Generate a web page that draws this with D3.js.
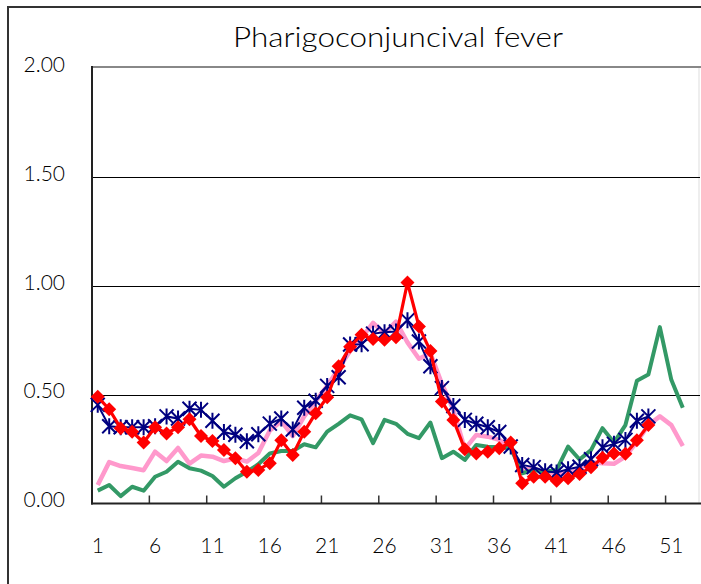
<!DOCTYPE html>
<html>
<head>
<meta charset="utf-8">
<script src="https://cdn.jsdelivr.net/npm/d3@7"></script>
<style>
  html, body { margin: 0; padding: 0; background: #fff; }
  svg { display: block; }
  text { font-family: Lato, "Liberation Sans", sans-serif; fill: #000; }
</style>
</head>
<body>
<svg id="chart" width="701" height="584"></svg>
<script>
// ---------- data ----------
const title = "Pharigoconjuncival fever";
const weeks = d3.range(1, 54);                       // 53 weekly categories
const xTickLabels = ["1","6","11","16","21","26","31","36","41","46","51"];
const yTicks = [0, 0.5, 1.0, 1.5, 2.0];

const pinkSeries = [0.085,0.19,0.172,0.163,0.153,0.238,0.195,0.255,0.183,0.22,
  0.215,0.195,0.208,0.192,0.232,0.335,0.378,0.31,0.40,0.47,
  0.54,0.62,0.70,0.76,0.83,0.78,0.835,0.74,0.665,0.69,
  0.55,0.43,0.25,0.315,0.307,0.292,0.26,0.155,0.162,0.14,
  0.14,0.135,0.16,0.19,0.185,0.182,0.215,0.284,0.36,0.40,
  0.36,0.264];
const greenSeries = [0.059,0.085,0.034,0.077,0.059,0.123,0.146,0.192,0.162,0.151,
  0.126,0.077,0.116,0.146,0.18,0.23,0.241,0.241,0.272,0.258,
  0.33,0.366,0.405,0.386,0.277,0.384,0.366,0.32,0.30,0.372,
  0.208,0.238,0.20,0.269,0.261,0.258,0.254,0.139,0.154,0.146,
  0.154,0.261,0.202,0.245,0.346,0.28,0.36,0.564,0.592,0.81,
  0.568,0.44];
const navySeries = [0.453,0.355,0.35,0.35,0.35,0.355,0.40,0.39,0.435,0.43,
  0.38,0.328,0.316,0.286,0.318,0.367,0.39,0.34,0.44,0.472,
  0.54,0.58,0.73,0.731,0.78,0.787,0.79,0.842,0.744,0.63,
  0.53,0.448,0.384,0.366,0.35,0.328,0.262,0.177,0.167,0.148,
  0.142,0.157,0.169,0.203,0.258,0.274,0.292,0.38,0.40];
const redSeries = [0.49,0.433,0.346,0.33,0.28,0.35,0.322,0.35,0.387,0.31,
  0.287,0.246,0.208,0.146,0.154,0.185,0.29,0.223,0.33,0.415,
  0.488,0.63,0.72,0.775,0.755,0.752,0.764,1.015,0.813,0.70,
  0.468,0.384,0.249,0.23,0.238,0.254,0.28,0.093,0.123,0.123,
  0.105,0.116,0.136,0.166,0.21,0.23,0.228,0.29,0.36];

// ---------- layout ----------
const svg = d3.select("#chart");
const plot = { left: 92, right: 700, top: 68, bottom: 503.5 };

svg.append("rect").attr("width", 701).attr("height", 584).attr("fill", "#fff");
// outer chart border (extends past the image on the right/bottom)
svg.append("rect").attr("x", 8).attr("y", 7).attr("width", 800).attr("height", 800)
  .attr("fill", "none").attr("stroke", "#333").attr("stroke-width", 2);

const x = d3.scaleBand().domain(weeks).range([plot.left, plot.right]).padding(0);
const xc = d => x(d) + x.bandwidth() / 2;
const y = d3.scaleLinear().domain([0, 2]).range([plot.bottom, plot.top]);

// plot area top/right border
svg.append("line").attr("x1", plot.left).attr("x2", plot.right + 2)
  .attr("y1", plot.top - 1).attr("y2", plot.top - 1)
  .attr("stroke", "#888").attr("stroke-width", 2);
svg.append("line").attr("x1", plot.right - 1).attr("x2", plot.right - 1)
  .attr("y1", plot.top).attr("y2", plot.bottom)
  .attr("stroke", "#ddd").attr("stroke-width", 1);

// gridlines
svg.append("g").selectAll("line").data(yTicks.filter(v => v > 0 && v < 2)).join("line")
  .attr("x1", plot.left).attr("x2", plot.right)
  .attr("y1", d => Math.round(y(d)) + 0.5).attr("y2", d => Math.round(y(d)) + 0.5)
  .attr("stroke", "#000").attr("stroke-width", 1);

// y axis labels
const yAxis = d3.axisLeft(y).tickValues(yTicks).tickFormat(d3.format(".2f")).tickSize(0).tickPadding(0);
const gy = svg.append("g").attr("transform", "translate(65,-3)").call(yAxis);
gy.select(".domain").remove();
gy.selectAll("text").attr("font-size", 21).attr("font-family", "Lato, sans-serif")
  .attr("font-weight", 300).attr("fill", "#000").attr("dy", "0.3em");

// x axis: labels every 5 weeks, ticks between categories every 5
const labelWeeks = xTickLabels.map(Number);
const xAxis = d3.axisBottom(x).tickValues(labelWeeks).tickSize(0).tickPadding(0);
const gx = svg.append("g").attr("transform", `translate(0,${plot.bottom})`).call(xAxis);
gx.select(".domain").remove();
gx.selectAll("text").attr("font-size", 21).attr("font-family", "Lato, sans-serif")
  .attr("font-weight", 300).attr("fill", "#000").attr("dy", "2.35em");

const tickBounds = d3.range(5, 53, 5);
svg.append("g").selectAll("line").data(tickBounds).join("line")
  .attr("x1", d => x(d + 1)).attr("x2", d => x(d + 1))
  .attr("y1", plot.bottom).attr("y2", plot.bottom - 8)
  .attr("stroke", "#333").attr("stroke-width", 1.5);

// axis lines
svg.append("line").attr("x1", plot.left).attr("x2", plot.left)
  .attr("y1", plot.top - 2).attr("y2", plot.bottom + 1)
  .attr("stroke", "#222").attr("stroke-width", 2);
svg.append("line").attr("x1", plot.left - 1).attr("x2", plot.right + 2)
  .attr("y1", plot.bottom).attr("y2", plot.bottom)
  .attr("stroke", "#222").attr("stroke-width", 2);

// title
svg.append("text").attr("x", 398).attr("y", 47).attr("text-anchor", "middle")
  .attr("font-size", 27).attr("font-weight", 300)
  .attr("textLength", 330).attr("lengthAdjust", "spacingAndGlyphs").text(title);

// ---------- series ----------
const line = d3.line().x((d, i) => xc(weeks[i])).y(d => y(d));

svg.append("path").datum(pinkSeries).attr("d", line)
  .attr("fill", "none").attr("stroke", "#FF99CC").attr("stroke-width", 4.5)
  .attr("stroke-linejoin", "round");
svg.append("path").datum(greenSeries).attr("d", line)
  .attr("fill", "none").attr("stroke", "#339966").attr("stroke-width", 4)
  .attr("stroke-linejoin", "round");

svg.append("path").datum(navySeries).attr("d", line)
  .attr("fill", "none").attr("stroke", "#000080").attr("stroke-width", 2);
const star = "M-7,-7L7,7M-7,7L7,-7M0,-8L0,8";
svg.append("g").selectAll("path").data(navySeries).join("path")
  .attr("transform", (d, i) => `translate(${xc(weeks[i])},${y(d)})`)
  .attr("d", star).attr("fill", "none").attr("stroke", "#000080").attr("stroke-width", 2);

svg.append("path").datum(redSeries).attr("d", line)
  .attr("fill", "none").attr("stroke", "#FF0000").attr("stroke-width", 3.2)
  .attr("stroke-linejoin", "round");
const diamond = "M0,-7L7,0L0,7L-7,0Z";
svg.append("g").selectAll("path").data(redSeries).join("path")
  .attr("transform", (d, i) => `translate(${xc(weeks[i])},${y(d)})`)
  .attr("d", diamond).attr("fill", "#FF0000");
</script>
</body>
</html>
